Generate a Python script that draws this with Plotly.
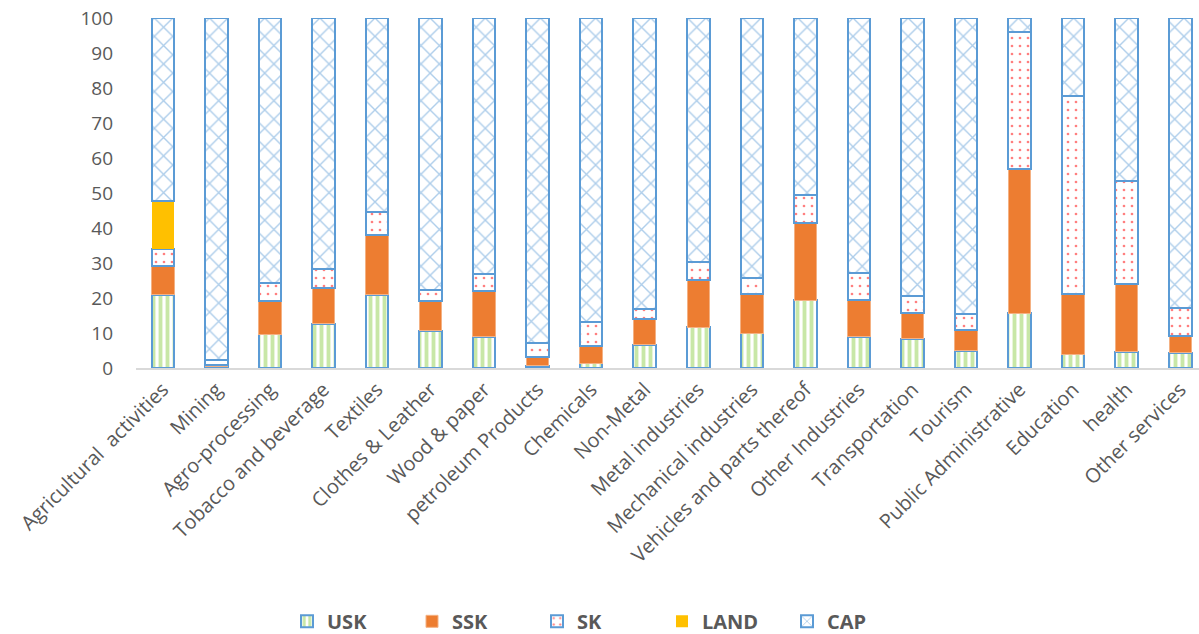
import plotly.graph_objects as go

categories = ["Agricultural  activities", "Mining", "Agro-processing", "Tobacco and beverage",
              "Textiles", "Clothes & Leather", "Wood & paper", "petroleum Products", "Chemicals",
              "Non-Metal", "Metal industries", "Mechanical industries", "Vehicles and parts thereof",
              "Other Industries", "Transportation", "Tourism", "Public Administrative", "Education",
              "health", "Other services"]

# cumulative tops
usk_top = [20.9, 0.3, 9.7, 12.6, 20.9, 10.6, 8.9, 0.6, 1.4, 6.6, 11.7, 10.0, 19.4, 8.9, 8.3, 4.9, 15.7, 4.0, 4.6, 4.4]
ssk_top = [29.2, 1.0, 19.1, 22.9, 38.0, 19.1, 22.0, 3.1, 6.3, 14.0, 25.1, 21.1, 41.4, 19.4, 15.7, 10.9, 57.0, 21.1, 24.0, 9.1]
sk_top = [34.0, 2.4, 24.3, 28.3, 44.6, 22.3, 26.9, 7.1, 13.1, 16.9, 30.3, 25.7, 49.4, 27.1, 20.6, 15.4, 96.0, 77.8, 53.3, 17.2]
land_top = [47.8, 2.4, 24.3, 28.3, 44.6, 22.3, 26.9, 7.1, 13.1, 16.9, 30.3, 25.7, 49.4, 27.1, 20.6, 15.4, 96.0, 77.8, 53.3, 17.2]

USK = usk_top
SSK = [round(b - a, 2) for a, b in zip(usk_top, ssk_top)]
SK = [round(b - a, 2) for a, b in zip(ssk_top, sk_top)]
LAND = [round(b - a, 2) for a, b in zip(sk_top, land_top)]
CAP = [round(100 - t, 2) for t in land_top]

blue = "#5B9BD5"
grey = "#595959"
W = 0.42

fig = go.Figure()
fig.add_bar(name="USK", x=categories, y=USK, width=W,
            marker=dict(color="white", line=dict(color=blue, width=2),
                        pattern=dict(shape="|", fgcolor="#92D050", bgcolor="white", size=7, solidity=0.55)))
fig.add_bar(name="SSK", x=categories, y=SSK, width=W,
            marker=dict(color="#ED7D31", line=dict(color="#F4B183", width=1)))
fig.add_bar(name="SK", x=categories, y=SK, width=W,
            marker=dict(color="white", line=dict(color=blue, width=2),
                        pattern=dict(shape=".", fgcolor="#FF0000", bgcolor="white", size=8, solidity=0.09)))
fig.add_bar(name="LAND", x=categories, y=LAND, width=W,
            marker=dict(color="#FFC000", line=dict(width=0)))
fig.add_bar(name="CAP", x=categories, y=CAP, width=W,
            marker=dict(color="white", line=dict(color=blue, width=2),
                        pattern=dict(shape="x", fgcolor=blue, bgcolor="white", size=13, solidity=0.2)))

fig.update_layout(
    barmode="stack",
    width=1199, height=634,
    margin=dict(l=136, r=0, t=18, b=266),
    plot_bgcolor="white", paper_bgcolor="white",
    font=dict(family="Open Sans", color=grey, size=18),
    showlegend=True,
    legend=dict(orientation="h", x=0.5, xanchor="center", xref="container",
                y=0.02, yanchor="middle", yref="container", entrywidth=80,
                font=dict(size=20, color=grey, weight=700), traceorder="normal"),
    bargap=0.58,
)
fig.update_xaxes(range=[-0.5, 19.35], tickangle=-45, showline=True, linecolor="#D9D9D9",
                 linewidth=2, ticks="", tickfont=dict(size=20, color=grey))
fig.update_yaxes(range=[0, 100], dtick=10, showgrid=False, showline=False, zeroline=False,
                 ticks="", tickfont=dict(size=19, color=grey), ticklabelstandoff=22)

fig.write_html("out.html")
